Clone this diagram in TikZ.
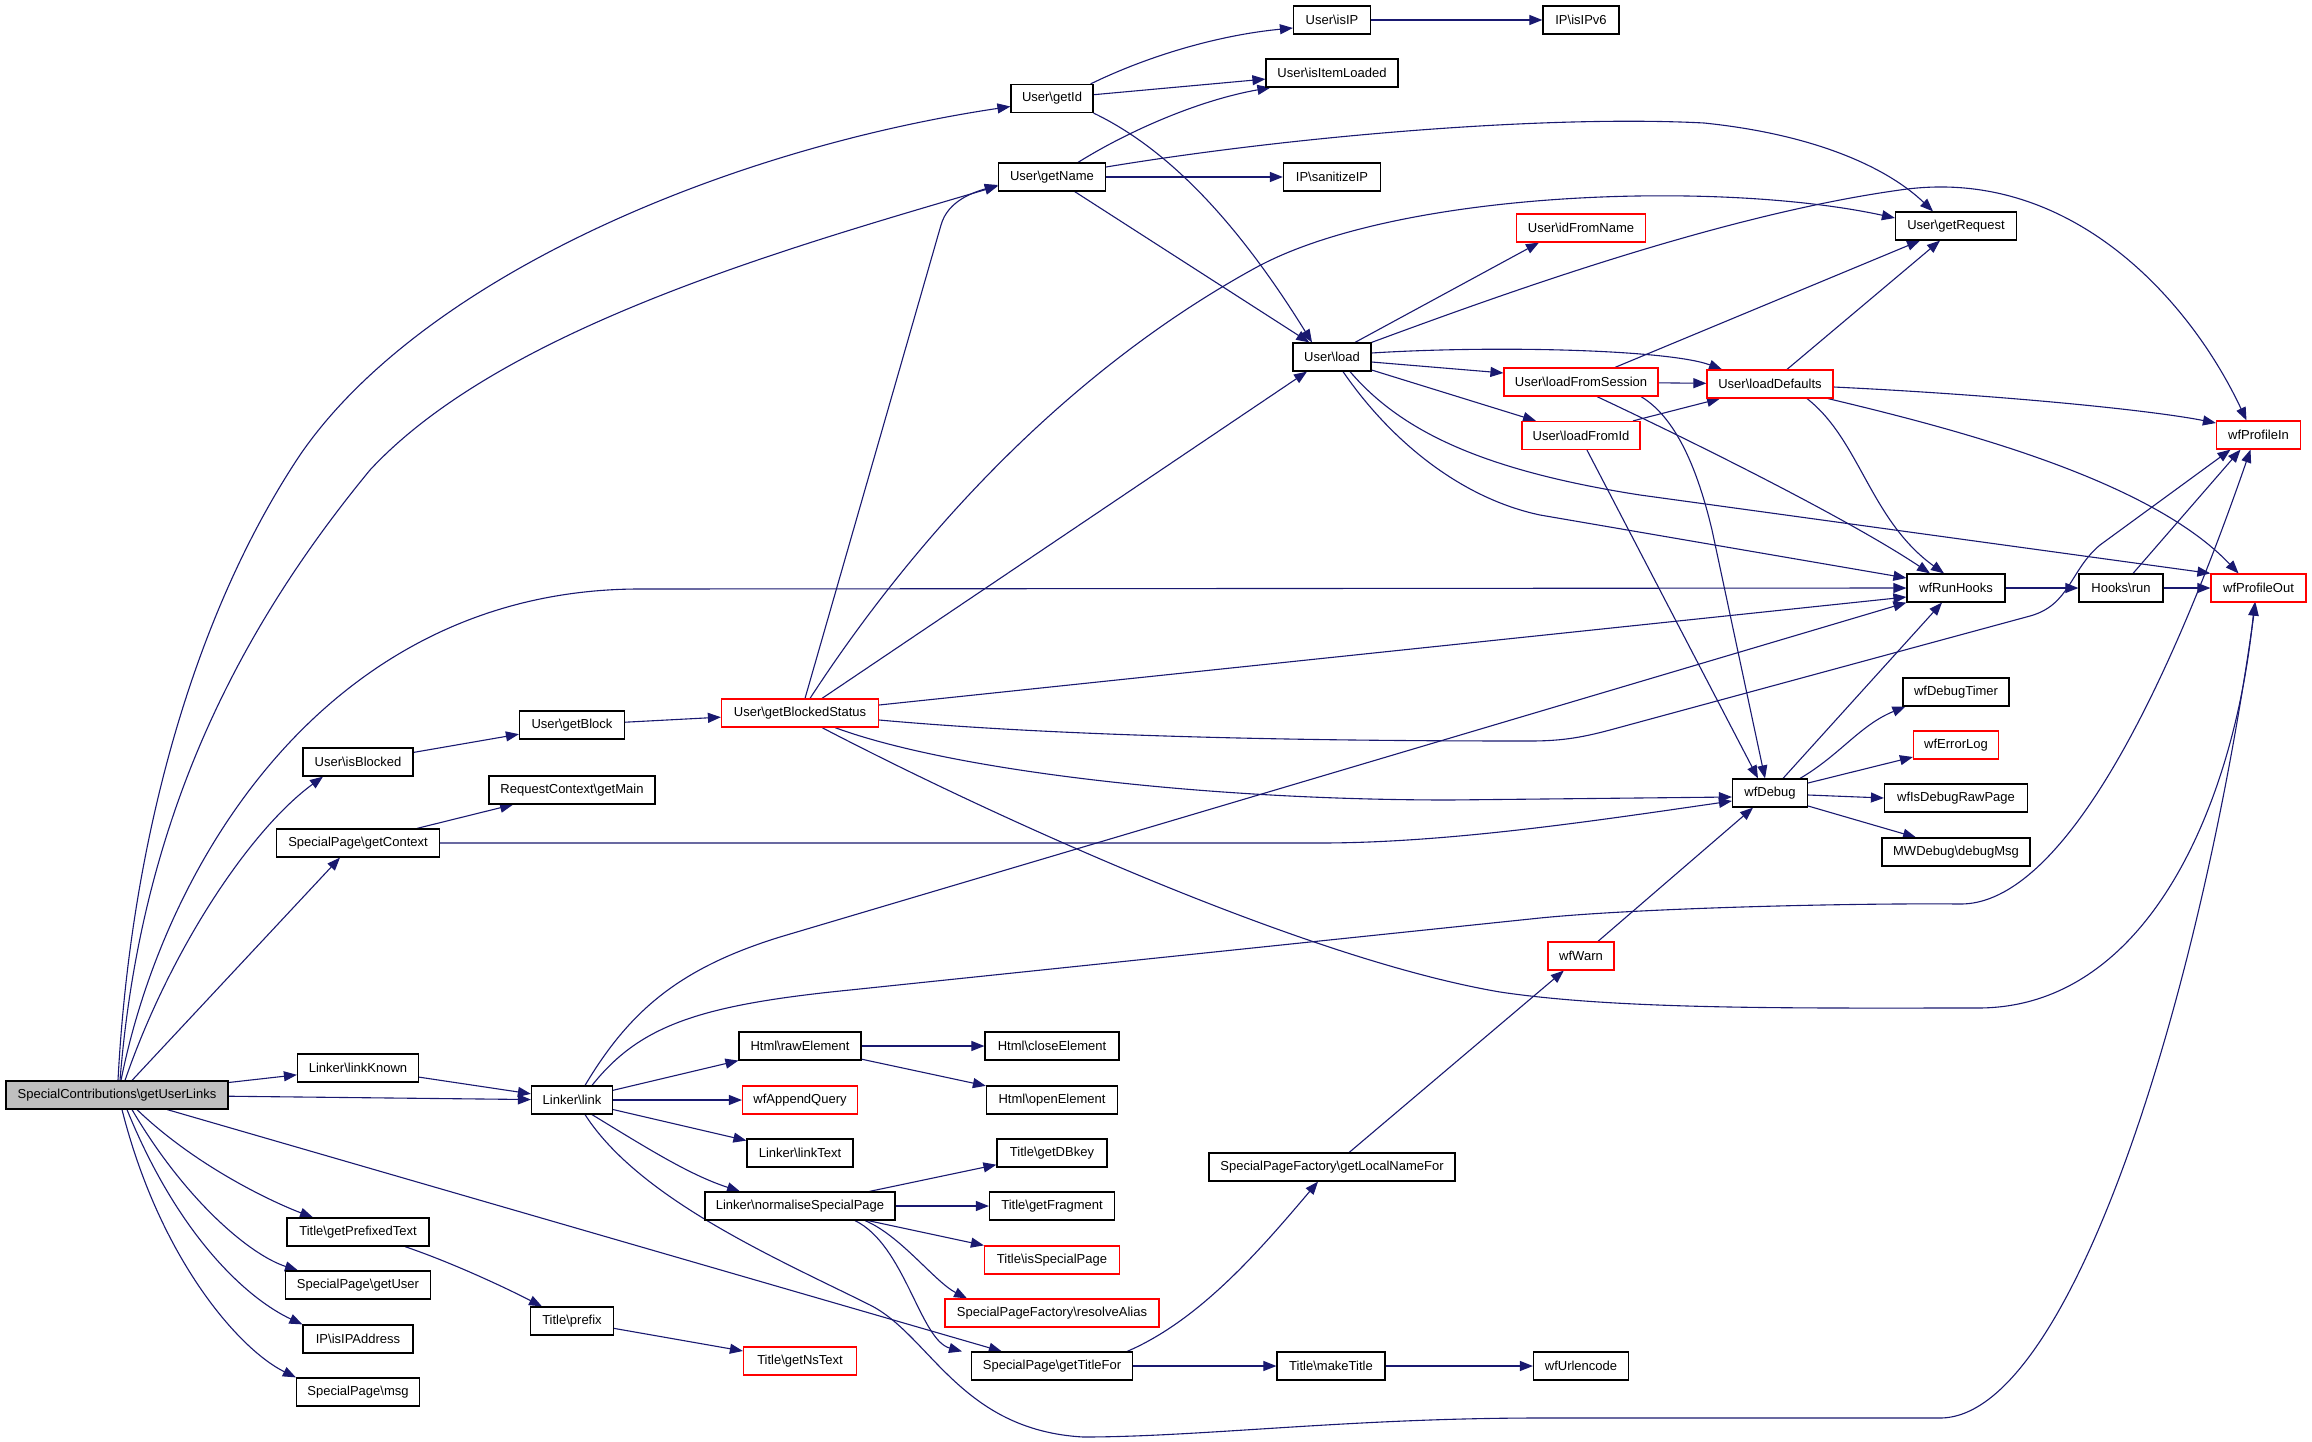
\documentclass[tikz,border=0pt]{standalone}
\usepackage{fontspec}
\setmainfont{Liberation Sans}
\usetikzlibrary{arrows.meta}
\definecolor{edgec}{HTML}{191970}
\definecolor{rootfill}{HTML}{BFBFBF}
\definecolor{redb}{HTML}{FF0000}
\newcommand{\bsl}{\textbackslash}
\pgfdeclarelayer{bg}
\pgfsetlayers{bg,main}
\begin{document}
\begin{tikzpicture}[x=1pt,y=-1pt,
 fn/.style={draw=black, line width=1.2pt, fill=white, rectangle, minimum height=28pt, inner sep=0pt, font=\fontsize{13}{15}\selectfont, text=black},
 rn/.style={fn, draw=redb},
 root/.style={fn, fill=rootfill},
 edge/.style={draw=edgec, line width=1.1pt, -{Triangle[length=13pt,width=10pt]}},
]
\begin{pgfonlayer}{bg}
\fill[white] (0,0) rectangle (2312,1442);
\end{pgfonlayer}
\useasboundingbox (0,0) rectangle (2312,1442);

% nodes
\node[root, minimum width=222pt] (gul) at (117,1095) {SpecialContributions\bsl getUserLinks};
\node[fn, minimum width=82pt] (getid) at (1052,98.5) {User\bsl getId};
\node[fn, minimum width=107pt] (getname) at (1052,177) {User\bsl getName};
\node[fn, minimum width=77pt] (isip) at (1332,20) {User\bsl isIP};
\node[fn, minimum width=132pt] (isitem) at (1332,73) {User\bsl isItemLoaded};
\node[fn, minimum width=97pt] (sanit) at (1332,177) {IP\bsl sanitizeIP};
\node[fn, minimum width=76pt] (isipv6) at (1581,20) {IP\bsl isIPv6};
\node[fn, minimum width=121pt] (getreq) at (1956,226) {User\bsl getRequest};
\node[rn, minimum width=129pt] (idfrom) at (1581,228) {User\bsl idFromName};
\node[fn, minimum width=78pt] (load) at (1332,357) {User\bsl load};
\node[rn, minimum width=154pt] (loadsess) at (1581,382) {User\bsl loadFromSession};
\node[rn, minimum width=126pt] (loaddef) at (1770,384) {User\bsl loadDefaults};
\node[rn, minimum width=118pt] (loadid) at (1581,435.5) {User\bsl loadFromId};
\node[rn, minimum width=84pt] (profin) at (2258.5,435) {wfProfileIn};
\node[fn, minimum width=98pt] (runhooks) at (1956,588) {wfRunHooks};
\node[fn, minimum width=84pt] (hooksrun) at (2121,588) {Hooks\bsl run};
\node[rn, minimum width=95pt] (profout) at (2258.5,588) {wfProfileOut};
\node[fn, minimum width=106pt] (dbgtimer) at (1956,692) {wfDebugTimer};
\node[rn, minimum width=85pt] (errlog) at (1956,745) {wfErrorLog};
\node[fn, minimum width=75pt] (wfdebug) at (1770,793) {wfDebug};
\node[fn, minimum width=143pt] (rawpage) at (1956,798) {wfIsDebugRawPage};
\node[fn, minimum width=148pt] (dbgmsg) at (1956,852) {MWDebug\bsl debugMsg};
\node[rn, minimum width=66pt] (wfwarn) at (1581,956) {wfWarn};
\node[fn, minimum width=110pt] (isblocked) at (358,762) {User\bsl isBlocked};
\node[fn, minimum width=105pt] (getblock) at (572,725) {User\bsl getBlock};
\node[rn, minimum width=157pt] (gbs) at (800,713) {User\bsl getBlockedStatus};
\node[fn, minimum width=166pt] (getmain) at (572,790) {RequestContext\bsl getMain};
\node[fn, minimum width=163pt] (getctx) at (358,843) {SpecialPage\bsl getContext};
\node[fn, minimum width=121pt] (linkknown) at (358,1068) {Linker\bsl linkKnown};
\node[fn, minimum width=81pt] (link) at (572,1100) {Linker\bsl link};
\node[fn, minimum width=142pt] (prefixed) at (358,1232) {Title\bsl getPrefixedText};
\node[fn, minimum width=145pt] (getuser) at (358,1285) {SpecialPage\bsl getUser};
\node[fn, minimum width=110pt] (isipaddr) at (358,1339) {IP\bsl isIPAddress};
\node[fn, minimum width=123pt] (msg) at (358,1392) {SpecialPage\bsl msg};
\node[fn, minimum width=83pt] (prefix) at (572,1321) {Title\bsl prefix};
\node[fn, minimum width=122pt] (rawel) at (800,1046) {Html\bsl rawElement};
\node[rn, minimum width=115pt] (appendq) at (800,1100) {wfAppendQuery};
\node[fn, minimum width=106pt] (linktext) at (800,1153) {Linker\bsl linkText};
\node[fn, minimum width=190pt] (normsp) at (800,1206) {Linker\bsl normaliseSpecialPage};
\node[rn, minimum width=113pt] (nstext) at (800,1361) {Title\bsl getNsText};
\node[fn, minimum width=134pt] (closeel) at (1052,1046) {Html\bsl closeElement};
\node[fn, minimum width=131pt] (openel) at (1052,1100) {Html\bsl openElement};
\node[fn, minimum width=110pt] (dbkey) at (1052,1153) {Title\bsl getDBkey};
\node[fn, minimum width=125pt] (fragment) at (1052,1206) {Title\bsl getFragment};
\node[rn, minimum width=135pt] (isspecial) at (1052,1260) {Title\bsl isSpecialPage};
\node[rn, minimum width=214pt] (resolve) at (1052,1313) {SpecialPageFactory\bsl resolveAlias};
\node[fn, minimum width=161pt] (titlefor) at (1052,1366) {SpecialPage\bsl getTitleFor};
\node[fn, minimum width=246pt] (localname) at (1332,1167) {SpecialPageFactory\bsl getLocalNameFor};
\node[fn, minimum width=108pt] (maketitle) at (1331,1366) {Title\bsl makeTitle};
\node[fn, minimum width=95pt] (urlenc) at (1581,1366) {wfUrlencode};

\begin{pgfonlayer}{bg}
% from root
\draw[edge] (gul) -- (linkknown);
\draw[edge] (gul) -- (link);
\draw[edge] (gul) -- (titlefor);
\draw[edge] ([xshift=20pt]gul.south) .. controls (200,1170) and (280,1205) .. ([xshift=-45pt]prefixed.north);
\draw[edge] ([xshift=15pt]gul.south) .. controls (185,1200) and (250,1255) .. ([xshift=-60pt]getuser.north);
\draw[edge] ([xshift=10pt]gul.south) .. controls (180,1240) and (250,1300) .. (isipaddr.north west);
\draw[edge] ([xshift=5pt]gul.south) .. controls (160,1260) and (240,1350) .. (msg.north west);
\draw[edge] ([xshift=15pt]gul.north) -- ([xshift=-18pt]getctx.south);
\draw[edge] ([xshift=8pt]gul.north) .. controls (170,950) and (250,830) .. ([xshift=-35pt]isblocked.south);
\draw[edge] ([xshift=4pt]gul.north) .. controls (165,860) and (330,589) .. (640,589) -- (runhooks.west);
\draw[edge] ([xshift=1pt]gul.north) .. controls (130,850) and (190,620) .. (300,455) .. controls (420,280) and (720,150) .. ([yshift=-8pt]getid.west);
\draw[edge] ([xshift=3pt]gul.north) .. controls (140,830) and (230,640) .. (370,470) .. controls (500,330) and (780,250) .. ([yshift=-9pt]getname.west);
% linker
\draw[edge] (linkknown) -- (link);
\draw[edge] (link) -- (rawel);
\draw[edge] (link) -- (appendq);
\draw[edge] (link) -- (linktext);
\draw[edge] ([xshift=20pt]link.south) .. controls (650,1150) and (690,1175) .. ([xshift=-60pt]normsp.north);
\draw[edge] ([xshift=13pt]link.north) .. controls (630,1010) and (680,968) .. (780,937) -- (runhooks.south west);
\draw[edge] ([xshift=20pt]link.north) .. controls (640,1025) and (700,1005) .. (850,990) -- (1540,918) .. controls (1640,908) and (1850,903) .. (1960,904) .. controls (2050,905) and (2150,740) .. ([xshift=-8pt]profin.south);
\draw[edge] ([xshift=13pt]link.south) .. controls (640,1200) and (780,1260) .. (870,1305) .. controls (930,1335) and (960,1430) .. (1083,1437) .. controls (1200,1437) and (1350,1418) .. (1540,1418) -- (1940,1418) .. controls (2070,1418) and (2200,1000) .. ([xshift=-3pt]profout.south);
\draw[edge] (rawel) -- (closeel);
\draw[edge] (rawel) -- (openel);
\draw[edge] (normsp) -- (dbkey);
\draw[edge] (normsp) -- (fragment);
\draw[edge] (normsp) -- (isspecial);
\draw[edge] ([xshift=65pt]normsp.south) .. controls (900,1235) and (935,1282) .. ([xshift=-85pt]resolve.north);
\draw[edge] ([xshift=55pt]normsp.south) .. controls (905,1245) and (920,1340) .. ([xshift=-90pt]titlefor.north);
\draw[edge] ([xshift=-6pt]titlefor.north east) .. controls (1200,1320) and (1260,1250) .. ([xshift=-14pt]localname.south);
\draw[edge] (titlefor) -- (maketitle);
\draw[edge] (maketitle) -- (urlenc);
\draw[edge] (localname) -- (wfwarn);
\draw[edge] (wfwarn) -- (wfdebug);
\draw[edge] ([xshift=47pt]prefixed.south) .. controls (450,1262) and (500,1285) .. ([xshift=-30pt]prefix.north);
\draw[edge] (prefix) -- (nstext);
% blocked
\draw[edge] (isblocked) -- (getblock);
\draw[edge] (getblock) -- (gbs);
\draw[edge] (getctx) -- (getmain);
\draw[edge] (getctx.east) -- (1320,843) .. controls (1450,843) and (1600,820) .. ([yshift=-8pt]wfdebug.west);
\draw[edge] ([xshift=5pt]gbs.north) -- (941,225) .. controls (948,200) and (975,192) .. ([yshift=-8pt]getname.west);
\draw[edge] ([xshift=10pt]gbs.north) .. controls (900,560) and (1050,380) .. (1257,267) .. controls (1400,190) and (1720,180) .. ([yshift=8pt]getreq.west);
\draw[edge] ([xshift=22pt]gbs.north) -- ([xshift=-25pt]load.south);
\draw[edge] ([yshift=8pt]gbs.east) -- ([yshift=-9pt]runhooks.west);
\draw[edge] ([yshift=-7pt]gbs.east) .. controls (1100,740) and (1400,741) .. (1530,741) .. controls (1560,741) and (1580,738) .. (1610,730) -- (2030,616) .. controls (2070,605) and (2070,570) .. (2100,545) -- ([xshift=-28pt]profin.south);
\draw[edge] ([xshift=35pt]gbs.south) .. controls (950,770) and (1200,800) .. (1450,800) -- ([yshift=-4pt]wfdebug.west);
\draw[edge] ([xshift=22pt]gbs.south) .. controls (980,810) and (1300,958) .. (1500,992) .. controls (1620,1010) and (1800,1008) .. (1978,1008) .. controls (2150,1008) and (2235,800) .. ([xshift=-4pt]profout.south);
% user
\draw[edge] ([xshift=-3pt]getid.north east) .. controls (1150,55) and (1220,35) .. ([yshift=-8pt]isip.west);
\draw[edge] (getid) -- (isitem);
\draw[edge] (getid.south east) .. controls (1160,145) and (1230,210) .. ([xshift=-20pt]load.north);
\draw[edge] ([xshift=26pt]getname.north) .. controls (1130,130) and (1200,100) .. ([xshift=5pt]isitem.south west);
\draw[edge] ([yshift=10pt]getname.east) .. controls (1300,135) and (1550,115) .. (1704,123) .. controls (1820,135) and (1890,170) .. ([xshift=-23pt]getreq.north);
\draw[edge] (getname) -- (sanit);
\draw[edge] (getname) -- (load);
\draw[edge] (isip) -- (isipv6);
\draw[edge] ([xshift=23pt]load.north) -- ([xshift=-42pt]idfrom.south);
\draw[edge] (load.north east) .. controls (1500,295) and (1720,215) .. (1900,190) .. controls (2070,165) and (2190,300) .. ([xshift=-12pt]profin.north);
\draw[edge] ([yshift=4pt]load.east) .. controls (1500,345) and (1670,350) .. ([xshift=-48pt]loaddef.north);
\draw[edge] ([yshift=-5pt]load.east) -- ([yshift=9pt]loadsess.west);
\draw[edge] ([yshift=-13pt]load.east) -- ([xshift=-45pt]loadid.north);
\draw[edge] ([xshift=11pt]load.south) .. controls (1390,440) and (1460,498) .. (1540,515) -- ([yshift=10pt]runhooks.west);
\draw[edge] ([xshift=18pt]load.south) .. controls (1400,430) and (1480,470) .. (1640,495) -- (profout.north west);
\draw[edge] ([xshift=34pt]loadsess.north) -- ([xshift=-36pt]getreq.south);
\draw[edge] (loadsess) -- (loaddef);
\draw[edge] ([xshift=16pt]loadsess.south) .. controls (1700,445) and (1850,520) .. ([xshift=-26pt]runhooks.north);
\draw[edge] ([xshift=60pt]loadsess.south) .. controls (1680,420) and (1700,480) .. (1712,530) -- ([xshift=-5pt]wfdebug.north);
\draw[edge] ([xshift=52pt]loadid.north) -- ([xshift=-50pt]loaddef.south);
\draw[edge] ([xshift=6pt]loadid.south) -- ([xshift=-12pt]wfdebug.north);
\draw[edge] ([xshift=17pt]loaddef.north) -- ([xshift=-16pt]getreq.south);
\draw[edge] ([yshift=-3pt]loaddef.east) .. controls (2000,395) and (2150,410) .. ([yshift=12pt]profin.west);
\draw[edge] ([xshift=37pt]loaddef.south) .. controls (1860,440) and (1870,520) .. ([xshift=-12pt]runhooks.north);
\draw[edge] ([xshift=58pt]loaddef.south) .. controls (1960,430) and (2150,480) .. ([xshift=-20pt]profout.north);
\draw[edge] (runhooks) -- (hooksrun);
\draw[edge] (hooksrun) -- (profout);
\draw[edge] ([xshift=12pt]hooksrun.north) -- ([xshift=-18pt]profin.south);
\draw[edge] ([xshift=13pt]wfdebug.north) -- ([xshift=-14pt]runhooks.south);
\draw[edge] ([xshift=30pt]wfdebug.north) .. controls (1840,755) and (1860,725) .. ([xshift=3pt]dbgtimer.south west);
\draw[edge] ([yshift=10pt]wfdebug.east) -- ([yshift=-12pt]errlog.west);
\draw[edge] ([yshift=-2pt]wfdebug.east) -- (rawpage.west);
\draw[edge] ([yshift=-13pt]wfdebug.east) -- ([xshift=-40pt]dbgmsg.north);
\end{pgfonlayer}
\end{tikzpicture}
\end{document}
